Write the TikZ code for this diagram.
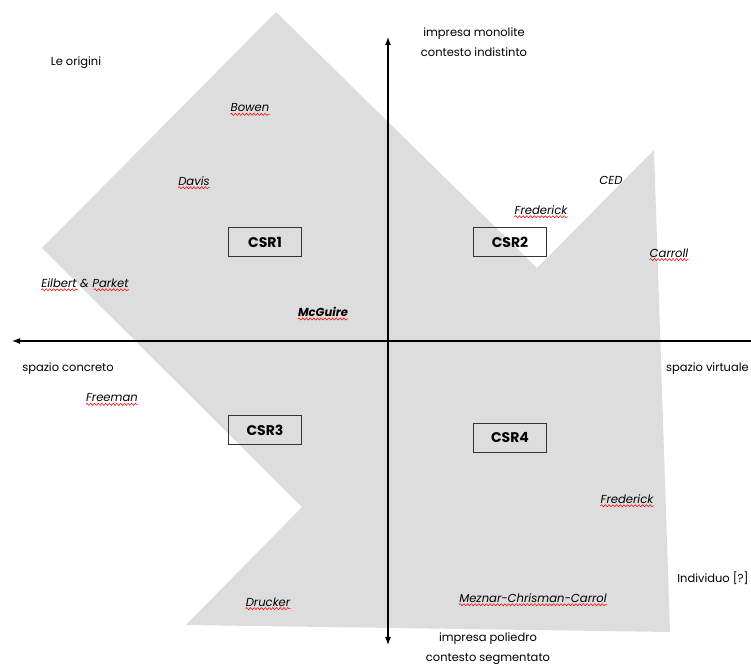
\documentclass[tikz,border=0pt]{standalone}
\usepackage{fontspec}
\setmainfont{Poppins}
\usepackage{tikz}
\usetikzlibrary{arrows.meta,positioning,calc,decorations.pathmorphing}
\definecolor{shadegray}{HTML}{DDDDDD}
\definecolor{boxgray}{HTML}{333333}

\begin{document}
\begin{tikzpicture}[x=0.75pt,y=-0.75pt,font=\fontsize{8.6}{15}\selectfont,
  csr/.style={draw=boxgray,line width=0.9pt,minimum width=55pt,minimum height=22pt,font=\fontsize{10.5}{11}\selectfont\bfseries},
  author/.style={inner sep=0pt,font=\fontsize{8.7}{10}\selectfont\itshape},
  label/.style={inner sep=0pt,align=center},
  wave/.style={red,line width=0.4pt,decorate,decoration={snake,amplitude=0.8pt,segment length=2.8pt}},
  axis/.style={line width=0.8pt}]
\useasboundingbox (0,0) rectangle (751,666);
\fill[shadegray] (276,12) -- (537,268) -- (654,150) -- (670,632) -- (186,625) -- (302,507) -- (42,248) -- cycle;
% axes
\coordinate (top) at (388,37);
\coordinate (bottom) at (388,645);
\coordinate (left) at (12,341);
\coordinate (right) at (751,341);
\draw[axis,-{Latex[length=6pt,width=4.5pt]}] (right) -- (left);
\draw[axis,{Latex[length=6pt,width=4.5pt]}-{Latex[length=6pt,width=4.5pt]}] (bottom) -- (top);
% axis labels
\node[label] (monolite) at (474,42) {impresa monolite\\contesto indistinto};
\node[label] (poliedro) at (488,649) {impresa poliedro\\contesto segmentato};
\node[label] (concreto) at (68,369) {spazio concreto};
\node[label,anchor=east] (virtuale) at (749,369) {spazio virtuale};
\node[label] (origini) at (76,63) {Le origini};
\node[label] (individuo) at (713,578) {Individuo [?]};
% quadrants
\node[csr] (csr1) at (265,242) {CSR1};
\node[csr] (csr2) at (510,242) {CSR2};
\node[csr] (csr3) at (265,430) {CSR3};
\node[csr] (csr4) at (510,438) {CSR4};
% authors
\node[author] (bowen) at (250,108) {Bowen};
\node[author] (davis) at (194,181) {Davis};
\node[author] (eilbert) at (85,283) {Eilbert \& Parket};
\node[author,font=\fontsize{8.7}{10}\selectfont\bfseries\itshape] (mcguire) at (323,312) {McGuire};
\node[author] (ced) at (611,180) {CED};
\node[author] (frederick1) at (541,210) {Frederick};
\node[author] (carroll) at (669,253) {Carroll};
\node[author] (freeman) at (112,398) {Freeman};
\node[author] (drucker) at (268,602) {Drucker};
\node[author] (frederick2) at (627,499) {Frederick};
\node[author] (meznar) at (533,598) {Meznar-Chrisman-Carrol};
% spelling marks
\foreach \n in {bowen,davis,mcguire,frederick1,carroll,freeman,drucker,frederick2,meznar}
  \draw[wave] ([yshift=-1.5pt]\n.south west) -- ([yshift=-1.5pt]\n.south east);
\draw[wave] ([yshift=-1.5pt]eilbert.south west) -- ([yshift=-1.5pt]$(eilbert.south west)!0.42!(eilbert.south east)$);
\draw[wave] ([yshift=-1.5pt]$(eilbert.south west)!0.6!(eilbert.south east)$) -- ([yshift=-1.5pt]eilbert.south east);
\end{tikzpicture}
\end{document}
